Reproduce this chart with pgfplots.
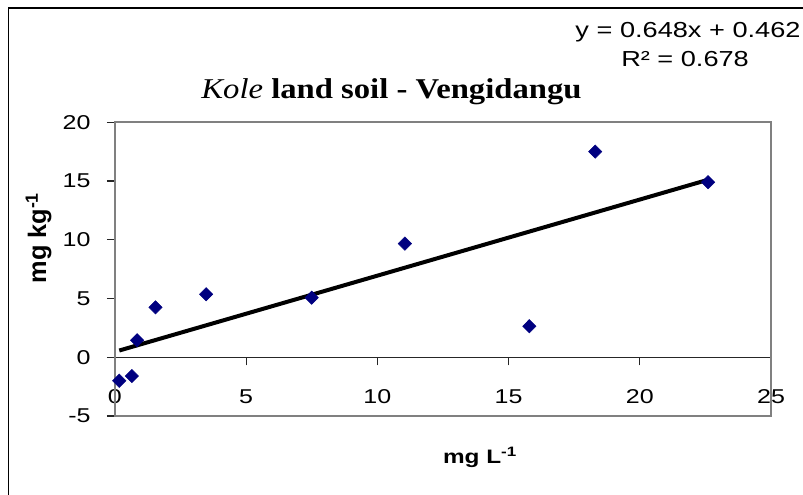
\documentclass[border=0pt]{standalone}
\usepackage{fontspec}
\usepackage{pgfplots}
\pgfplotsset{compat=1.18}
\setmainfont{Liberation Sans}[FakeStretch=1.25]
\newfontfamily\titleserif{Liberation Serif}[FakeStretch=1.14]
\newfontfamily\ylabfont{Liberation Sans}
\definecolor{navy}{HTML}{000080}
\begin{document}
\begin{tikzpicture}
\clip (0,0) rectangle (602.25pt,-371.25pt);
\fill[white] (0,0) rectangle (602.25pt,-371.25pt);
\draw[black, line width=1.1pt] (6.4pt,-6pt) rectangle (640pt,-420pt);
\begin{axis}[
  at={(86.1pt,-312pt)}, anchor=south west,
  scale only axis, width=492.2pt, height=220.3pt,
  xmin=0, xmax=25, ymin=-5, ymax=20,
  axis x line=middle, axis y line=left,
  hide obscured x ticks=false, hide obscured y ticks=false,
  axis line style={-, black!85, line width=0.9pt},
  xtick={0,5,10,15,20,25}, ytick={-5,0,5,10,15,20},
  tick align=outside, major tick length=6pt,
  tick style={black!85, line width=0.8pt},
  /pgf/number format/assume math mode=true,
  ticklabel style={font=\fontsize{15}{15}\selectfont, inner sep=0pt},
  xticklabel style={anchor=center, yshift=-23.3pt},
  yticklabel style={anchor=east, xshift=-12pt},
  clip=false,
]
\draw[gray, line width=1.3pt] (rel axis cs:0,0) rectangle (rel axis cs:1,1);
\addplot[only marks, mark=diamond*, mark size=5pt,
  mark options={xscale=1.33, fill=navy, draw=navy}] coordinates {
  (0.17,-2.0) (0.65,-1.6) (0.85,1.45) (1.55,4.25) (3.48,5.36)
  (7.5,5.07) (11.05,9.67) (15.79,2.64) (18.3,17.5) (22.6,14.9)
};
\addplot[black, line width=3pt, no marks] coordinates {(0.17,0.572) (22.6,15.107)};
\end{axis}
\node[anchor=base, inner sep=0pt] at (516pt,-28pt) {\fontsize{16.3}{16.3}\selectfont y = 0.648x + 0.462};
\node[anchor=base, inner sep=0pt] at (513.8pt,-50pt) {\fontsize{16.3}{16.3}\selectfont R² = 0.678};
\node[anchor=base, inner sep=0pt] at (293.6pt,-73.7pt) {\titleserif\bfseries\fontsize{21.5}{21.5}\selectfont {\mdseries\itshape Kole} land soil - Vengidangu};
\node[anchor=base, inner sep=0pt] at (360pt,-347.5pt) {\bfseries\fontsize{14.6}{14.6}\selectfont mg L\textsuperscript{-1}};
\node[rotate=90, inner sep=0pt] at (28.9pt,-178.5pt) {\ylabfont\bfseries\fontsize{19}{19}\selectfont mg kg\textsuperscript{-1}};
\end{tikzpicture}
\end{document}
